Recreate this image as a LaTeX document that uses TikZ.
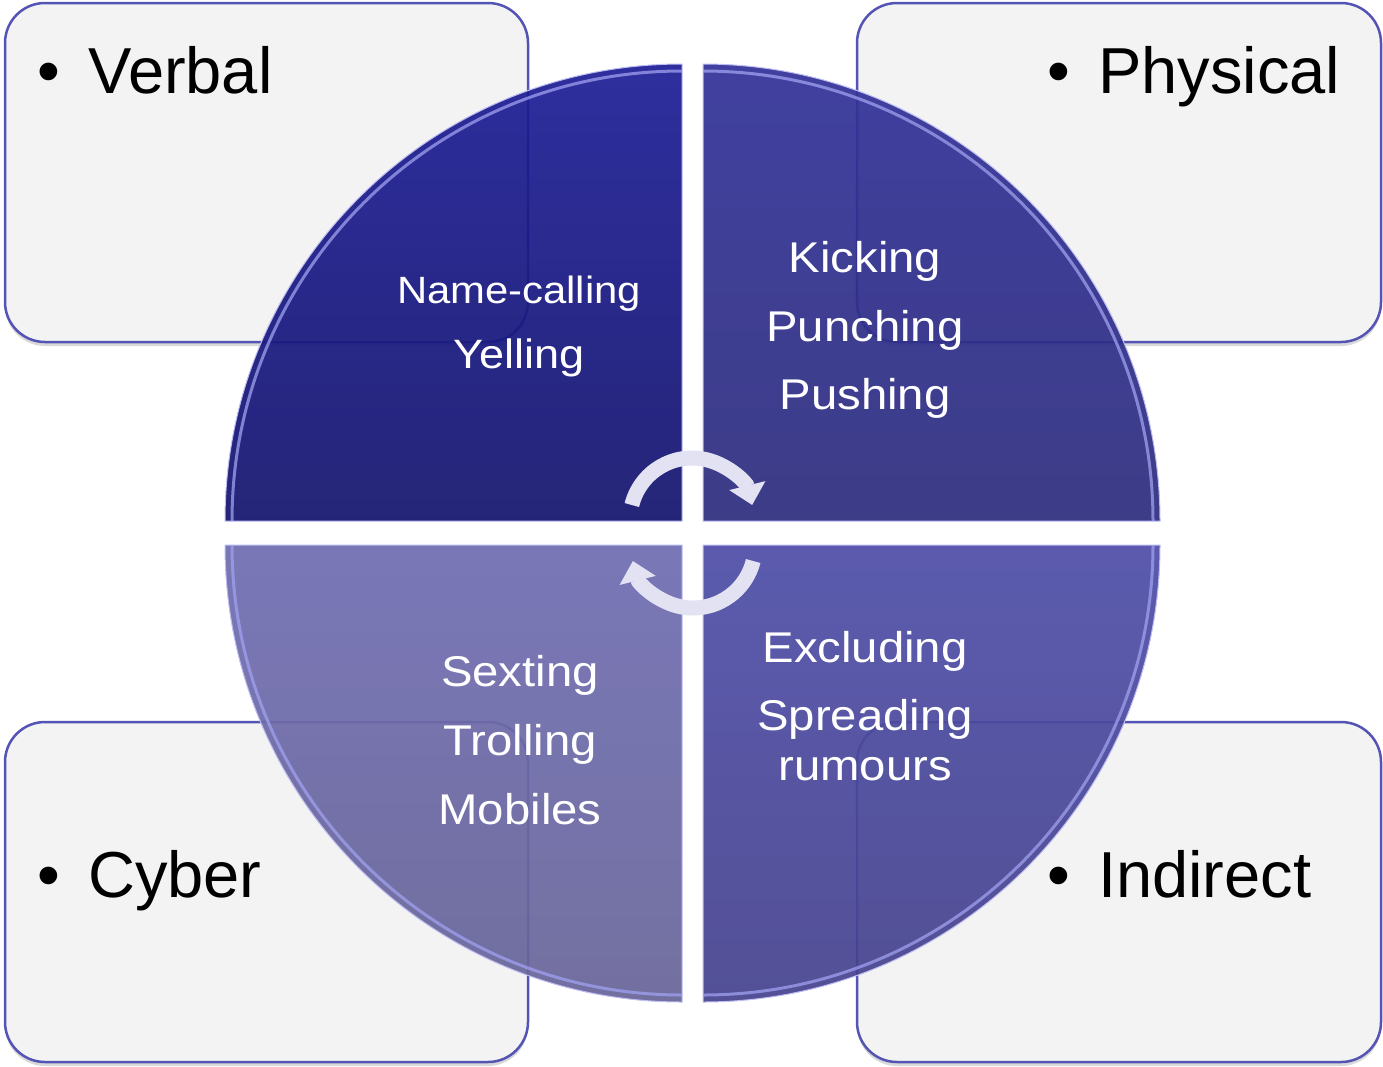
\documentclass[tikz,border=0pt]{standalone}
\usepackage{fontspec}
\setmainfont{Liberation Sans}
\newfontfamily\wide[FakeStretch=1.1]{Liberation Sans}
\usetikzlibrary{arrows.meta,shadows}
\definecolor{boxfill}{HTML}{F3F3F3}
\definecolor{boxline}{HTML}{5454B4}
\definecolor{tlTop}{HTML}{1E1E97}
\definecolor{tlBot}{HTML}{14146E}
\definecolor{trTop}{HTML}{333299}
\definecolor{trBot}{HTML}{2D2D7E}
\definecolor{blTop}{HTML}{706DB2}
\definecolor{blBot}{HTML}{686599}
\definecolor{brTop}{HTML}{4F4EA8}
\definecolor{brBot}{HTML}{46438E}
\definecolor{bevel}{HTML}{A0A0F0}
\definecolor{arrowcol}{HTML}{E2E2F2}
\begin{document}
\begin{tikzpicture}[x=1pt,y=-1pt,
  catbox/.style={draw=boxline, line width=2.5pt, fill=boxfill, rounded corners=40pt,
    drop shadow={shadow xshift=0pt, shadow yshift=-4pt, opacity=0.25, fill=black!60}},
  biglabel/.style={anchor=base west, inner sep=0pt, text=black, font=\fontsize{65}{70}\selectfont},
  qtext/.style={anchor=base, inner sep=0pt, text=white, font=\wide\fontsize{43}{50}\selectfont},
  quad/.style={fill opacity=0.93, draw=bevel!70!white, line width=1pt},
  hilite/.style={draw=bevel, line width=3pt, opacity=0.75},
  cycarrow/.style={draw=arrowcol, line width=15pt, -{Triangle[length=20pt,width=36pt]}}
]
\useasboundingbox (0,0) rectangle (1383,1066);

% category boxes
\path[catbox] (5,3) rectangle (528,342);
\path[catbox] (857,3) rectangle (1381,342);
\path[catbox] (5,722) rectangle (528,1062);
\path[catbox] (857,722) rectangle (1381,1062);

\node[biglabel] (verbal) at (37,93) {\makebox[51pt][l]{•}Verbal};
\node[biglabel] (physical) at (1047,93) {\makebox[51pt][l]{•}Physical};
\node[biglabel] (cyber) at (37,897) {\makebox[51pt][l]{•}Cyber};
\node[biglabel] (indirect) at (1047,897) {\makebox[51pt][l]{•}Indirect};

% quadrants
\shade[quad, top color=tlTop, bottom color=tlBot]
  (682,521) -- (225,521) arc[start angle=180, end angle=270, radius=457] -- cycle;
\shade[quad, top color=trTop, bottom color=trBot]
  (703,521) -- (703,64) arc[start angle=270, end angle=360, radius=457] -- cycle;
\shade[quad, top color=blTop, bottom color=blBot]
  (682,545) -- (225,545) arc[start angle=180, end angle=90, radius=457] -- cycle;
\shade[quad, top color=brTop, bottom color=brBot]
  (703,545) -- (1160,545) arc[start angle=0, end angle=90, radius=457] -- cycle;

% bevel highlights along the arcs
\draw[hilite] (232,521) arc[start angle=180, end angle=270, radius=450];
\draw[hilite] (703,71) arc[start angle=270, end angle=360, radius=450];
\draw[hilite] (232,545) arc[start angle=180, end angle=90, radius=450];
\draw[hilite] (1153,545) arc[start angle=0, end angle=90, radius=450];

% quadrant texts
\node[qtext, font=\wide\fontsize{38}{44}\selectfont] (t1) at (519,303) {Name-calling};
\node[qtext, font=\wide\fontsize{41}{44}\selectfont] (t2) at (519,368) {Yelling};

\node[qtext] (t3) at (865,272) {Kicking};
\node[qtext] (t4) at (865,341) {Punching};
\node[qtext] (t5) at (865,409) {Pushing};

\node[qtext] (t6) at (520,686) {Sexting};
\node[qtext] (t7) at (520,755) {Trolling};
\node[qtext] (t8) at (520,824) {Mobiles};

\node[qtext] (t9) at (865,662) {Excluding};
\node[qtext] (t10) at (865,730) {Spreading};
\node[qtext] (t11) at (865,780) {rumours};

% circular arrows
\draw[cycarrow] (692,520) ++(194:62) arc[start angle=194, end angle=346, radius=62];
\draw[cycarrow] (693,546) ++(14:62) arc[start angle=14, end angle=166, radius=62];
\end{tikzpicture}
\end{document}
